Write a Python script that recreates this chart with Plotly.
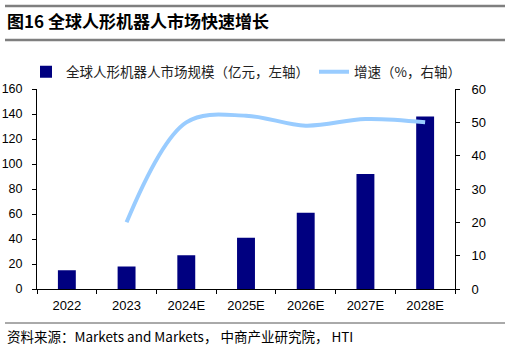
import plotly.graph_objects as go

years = ["2022", "2023", "2024E", "2025E", "2026E", "2027E", "2028E"]
market_size = [15, 18, 27, 41, 61, 92, 138]
growth = [None, 20, 50, 52, 49, 51, 50]
left_ticks = [0, 20, 40, 60, 80, 100, 120, 140, 160]
right_ticks = [0, 10, 20, 30, 40, 50, 60]

CJK = "Noto Sans CJK SC"
LAT = "Liberation Sans, Arial, sans-serif"

fig = go.Figure()
fig.add_trace(go.Bar(
    x=years, y=market_size, name="全球人形机器人市场规模（亿元，左轴）",
    marker=dict(color="#000080", line=dict(width=0)), width=0.3, yaxis="y",
))
fig.add_trace(go.Scatter(
    x=years, y=growth, name="增速（%，右轴）", mode="lines",
    line=dict(color="#99CCFF", width=4, shape="spline", smoothing=1.0),
    yaxis="y2", connectgaps=False,
))

L, R, T, B = 37, 455, 89, 289
W, H = 510, 349
def px(x):
    return (x - L) / (R - L)
def py(y):
    return (B - y) / (B - T)

fig.update_layout(
    width=W, height=H,
    margin=dict(l=L, r=W - R, t=T, b=H - B, autoexpand=False),
    paper_bgcolor="white", plot_bgcolor="white",
    font=dict(family=LAT, size=13, color="#000000"),
    showlegend=True,
    legend=dict(orientation="h", x=px(26), y=py(72), xanchor="left", yanchor="middle",
                font=dict(family=CJK, size=13.5, color="#222222"),
                bgcolor="rgba(0,0,0,0)", itemwidth=30, tracegroupgap=0),
    xaxis=dict(
        type="category", showgrid=False, showline=True, linecolor="#000000", linewidth=1,
        ticks="outside", ticklen=4, tickson="boundaries", tickcolor="#000000",
        tickfont=dict(family=LAT, size=13), automargin=False, ticklabelstandoff=4,
    ),
    yaxis=dict(
        range=[0, 160], tickvals=left_ticks, showgrid=False, showline=True,
        linecolor="#000000", linewidth=1, ticks="outside", ticklen=4, tickcolor="#000000",
        tickfont=dict(family=LAT, size=12.5), automargin=False, zeroline=False,
        ticklabelstandoff=7,
    ),
    yaxis2=dict(
        range=[0, 60], tickvals=right_ticks, overlaying="y", side="right", showgrid=False,
        showline=True, linecolor="#000000", linewidth=1, ticks="outside", ticklen=4,
        tickcolor="#000000", tickfont=dict(family=LAT, size=13), automargin=False,
        zeroline=False, ticklabelstandoff=9,
    ),
)

for yy, col, wd in [(6, "#7f7f7f", 2.5), (40, "#7f7f7f", 2.5), (323, "#555555", 1)]:
    fig.add_shape(type="line", xref="paper", yref="paper", x0=px(5), x1=px(505),
                  y0=py(yy), y1=py(yy), line=dict(color=col, width=wd))

fig.add_annotation(xref="paper", yref="paper", x=px(5), y=py(20), xanchor="left",
                   yanchor="middle", showarrow=False,
                   text="<b>图16 全球人形机器人市场快速增长</b>",
                   font=dict(family=CJK, size=17, color="#000000"))
fig.add_annotation(xref="paper", yref="paper", x=px(5), y=py(336), xanchor="left",
                   yanchor="middle", showarrow=False,
                   text="资料来源：Markets and Markets， 中商产业研究院， HTI",
                   font=dict(family=CJK, size=13.5, color="#000000"))

fig.write_html("out.html")
